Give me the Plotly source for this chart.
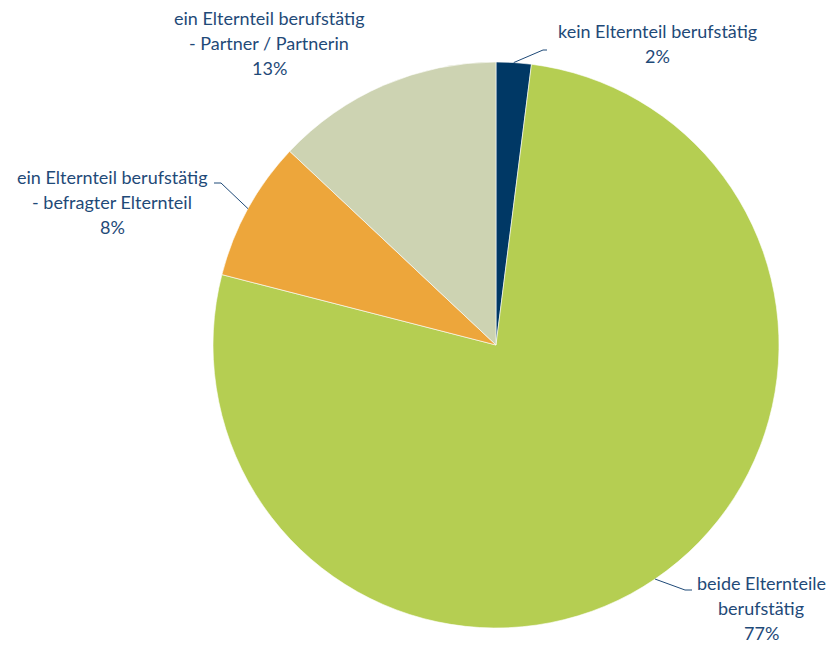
import math
import plotly.graph_objects as go

# Anteil berufstätiger Eltern
labels = [
    "kein Elternteil berufstätig",
    "beide Elternteile berufstätig",
    "ein Elternteil berufstätig - befragter Elternteil",
    "ein Elternteil berufstätig - Partner / Partnerin",
]
values = [2, 77, 8, 13]
colors = ["#003865", "#B5CE52", "#EDA63B", "#CDD3B2"]
label_lines = [
    ["kein Elternteil berufstätig"],
    ["beide Elternteile", "berufstätig"],
    ["ein Elternteil berufstätig", "- befragter Elternteil"],
    ["ein Elternteil berufstätig", "- Partner / Partnerin"],
]

W, H = 833, 645
CX, CY, R = 496, 345, 283
TEXT = "#1F4A78"
FONT = "Lato"
FONT_SIZE = 18

fig = go.Figure(go.Pie(
    labels=labels,
    values=values,
    marker=dict(colors=colors, line=dict(color="white", width=0.6)),
    sort=False,
    direction="clockwise",
    rotation=0,
    textinfo="none",
    hoverinfo="label+percent",
    domain=dict(x=[(CX - R) / W, (CX + R) / W],
                y=[1 - (CY + R) / H, 1 - (CY - R) / H]),
    showlegend=False,
))


def px(x, y):
    return x / W, 1 - y / H


def edge_point(i):
    """Point on the pie rim at the middle of slice i (clockwise from 12 o'clock)."""
    total = sum(values)
    start = sum(values[:i])
    frac = (start + values[i] / 2) / total
    a = 2 * math.pi * frac
    return CX + R * math.sin(a), CY - R * math.cos(a)


# label block placement: centre x, first line y, leader elbow (x, y), leader end x
placements = [
    dict(cx=657, y0=31, elbow=(543, 50), end=547),
    dict(cx=761, y0=583, elbow=(685, 590), end=692),
    dict(cx=112, y0=177, elbow=(221, 183), end=214),
    dict(cx=269, y0=18, elbow=None, end=None),
]
LINE_H = 25

annotations = []
shapes = []
for i, p in enumerate(placements):
    lines = label_lines[i] + [f"{values[i]}%"]
    for k, t in enumerate(lines):
        x, y = px(p["cx"], p["y0"] + k * LINE_H)
        annotations.append(dict(
            x=x, y=y, xref="paper", yref="paper", text=t, showarrow=False,
            xanchor="center", yanchor="middle",
            font=dict(family=FONT, size=FONT_SIZE, color=TEXT),
        ))
    if p["elbow"] is not None:
        sx, sy = edge_point(i)
        ex, ey = p["elbow"]
        pts = [px(sx, sy), px(ex, ey), px(p["end"], ey)]
        path = "M {} {} L {} {} L {} {}".format(
            pts[0][0], pts[0][1], pts[1][0], pts[1][1], pts[2][0], pts[2][1])
        shapes.append(dict(type="path", path=path, xref="paper", yref="paper",
                           line=dict(color=TEXT, width=1)))

fig.update_layout(
    width=W, height=H,
    margin=dict(l=0, r=0, t=0, b=0),
    paper_bgcolor="white",
    plot_bgcolor="white",
    annotations=annotations,
    shapes=shapes,
)

fig.write_html("out.html")
